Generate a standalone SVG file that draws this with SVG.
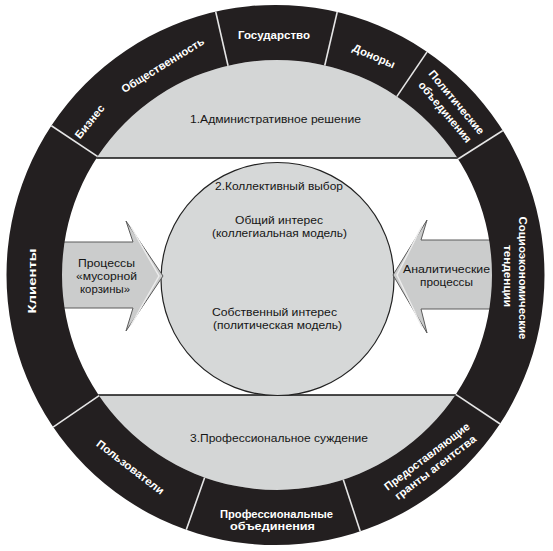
<svg xmlns="http://www.w3.org/2000/svg" width="553" height="551" viewBox="0 0 553 551">
<defs>
<style>
.ring{fill:#231f20;fill-rule:evenodd}
.band{fill:#d4d6d6}
.bline{stroke:#111;stroke-width:1.5}
.sep{stroke:#e6e6e6;stroke-width:1.6}
.rl{font-family:"Liberation Sans",Arial,sans-serif;font-weight:bold;font-size:11px;fill:#fff;text-anchor:middle}
.gl{font-family:"Liberation Sans",Arial,sans-serif;font-size:11.5px;fill:#151515;text-anchor:middle}
.al{font-family:"Liberation Sans",Arial,sans-serif;font-size:11px;fill:#151515;text-anchor:middle}
.arrow{fill:#cbcccc;stroke:#5a5a5a;stroke-width:1}
.bevel{fill:none;stroke:#ececec;stroke-width:1.5}
</style>
<clipPath id="hole"><circle cx="277" cy="275" r="215"/></clipPath>
<clipPath id="ringclip"><path clip-rule="evenodd" d="M6.5,275 A269,270 0 1 1 544.5,275 A269,270 0 1 1 6.5,275 Z M62,275 A215,215 0 1 0 492,275 A215,215 0 1 0 62,275 Z"/></clipPath>
</defs>
<rect width="553" height="551" fill="#fff"/>
<g id="bands">
<g clip-path="url(#hole)">
<rect class="band" x="0" y="0" width="553" height="158"/>
<rect class="band" x="0" y="395" width="553" height="160"/>
<line class="bline" x1="40" y1="158" x2="520" y2="158"/>
<line class="bline" x1="40" y1="395" x2="520" y2="395"/>
</g>
<text class="gl" x="275.5" y="123" textLength="171" lengthAdjust="spacingAndGlyphs">1.Административное решение</text>
<text class="gl" x="279" y="442" textLength="178" lengthAdjust="spacingAndGlyphs">3.Профессиональное суждение</text>
</g>
<g id="center">
<circle cx="277.5" cy="279" r="116.5" fill="#d6d8d8" stroke="#222" stroke-width="1.2"/>
<text class="gl" x="279" y="190" textLength="128" lengthAdjust="spacingAndGlyphs">2.Коллективный выбор</text>
<text class="gl" x="279" y="224" textLength="88" lengthAdjust="spacingAndGlyphs">Общий интерес</text>
<text class="gl" x="279.5" y="237" textLength="135" lengthAdjust="spacingAndGlyphs">(коллегиальная модель)</text>
<text class="gl" x="274.5" y="316" textLength="125" lengthAdjust="spacingAndGlyphs">Собственный интерес</text>
<text class="gl" x="277.5" y="329" textLength="129" lengthAdjust="spacingAndGlyphs">(политическая модель)</text>
</g>
<g id="arrow-left">
<polygon class="arrow" points="52,242 133,242 126,221 163,276 126,331 133,308 52,308"/>
<polyline class="bevel" points="131,227 159,276 131,325"/>
<text class="al" x="106.5" y="266.5" textLength="57" lengthAdjust="spacingAndGlyphs">Процессы</text>
<text class="al" x="106.5" y="279.5" textLength="61" lengthAdjust="spacingAndGlyphs">«мусорной</text>
<text class="al" x="105" y="292.5" textLength="50" lengthAdjust="spacingAndGlyphs">корзины»</text>
</g>
<g id="arrow-right">
<polygon class="arrow" points="502,240 421,240 427,220 393,275 427,333 421,309 502,309"/>
<polyline class="bevel" points="422,226 397,275 422,327"/>
<text class="al" x="446.5" y="272.5" textLength="87" lengthAdjust="spacingAndGlyphs">Аналитические</text>
<text class="al" x="446.5" y="285.5" textLength="53" lengthAdjust="spacingAndGlyphs">процессы</text>
</g>
<g id="ring">
<path class="ring" d="M6.5,275 A269,270 0 1 1 544.5,275 A269,270 0 1 1 6.5,275 Z M62,275 A215,215 0 1 0 492,275 A215,215 0 1 0 62,275 Z"/>
</g>
<g id="connectors" clip-path="url(#ringclip)">
<line class="sep" x1="109.4" y1="164.3" x2="42.8" y2="120"/>
<line class="sep" x1="231.3" y1="80" x2="213.5" y2="2.1"/>
<line class="sep" x1="321.3" y1="80.2" x2="339.5" y2="2.3"/>
<line class="sep" x1="388.1" y1="109.4" x2="433" y2="43.1"/>
<line class="sep" x1="444.7" y1="167.5" x2="512.2" y2="124.6"/>
<line class="sep" x1="110.8" y1="387.7" x2="44.7" y2="432.8"/>
<line class="sep" x1="209.6" y1="463.6" x2="183" y2="539.1"/>
<line class="sep" x1="338.5" y1="465" x2="363.4" y2="541"/>
<line class="sep" x1="442.6" y1="385.7" x2="509.2" y2="430"/>
</g>
<g id="gosudarstvo"><text class="rl" x="274" y="38.5" textLength="72" lengthAdjust="spacingAndGlyphs">Государство</text></g>
<g id="donory" transform="translate(374,56) rotate(23.7)"><text class="rl" x="0" y="4" textLength="45" lengthAdjust="spacingAndGlyphs">Доноры</text></g>
<g id="polit" transform="translate(451,107) rotate(50)">
<text class="rl" x="0" y="-3.5" textLength="80" lengthAdjust="spacingAndGlyphs">Политические</text>
<text class="rl" x="0" y="11.5" textLength="76" lengthAdjust="spacingAndGlyphs">объединения</text>
</g>
<g id="obshch" transform="translate(162.5,65) rotate(-31.7)"><text class="rl" x="0" y="4" textLength="95" lengthAdjust="spacingAndGlyphs">Общественность</text></g>
<g id="biznes" transform="translate(89.5,121.5) rotate(-51)"><text class="rl" x="0" y="4" textLength="40" lengthAdjust="spacingAndGlyphs">Бизнес</text></g>
<g id="klienty" transform="translate(32,281) rotate(-90)"><text class="rl" x="0" y="4" textLength="65" lengthAdjust="spacingAndGlyphs">Клиенты</text></g>
<g id="socio" transform="translate(515.5,277) rotate(90)">
<text class="rl" x="1" y="-3.5" textLength="123" lengthAdjust="spacingAndGlyphs">Социоэкономические</text>
<text class="rl" x="-1" y="11.5" textLength="62" lengthAdjust="spacingAndGlyphs">тенденции</text>
</g>
<g id="polzovateli" transform="translate(130.5,467) rotate(37.6)"><text class="rl" x="0" y="4" textLength="82" lengthAdjust="spacingAndGlyphs">Пользователи</text></g>
<g id="prof">
<text class="rl" x="276.5" y="517.5" textLength="113" lengthAdjust="spacingAndGlyphs">Профессиональные</text>
<text class="rl" x="272.5" y="530" textLength="85" lengthAdjust="spacingAndGlyphs">объединения</text>
</g>
<g id="granty" transform="translate(431,461.75) rotate(-37.2)">
<text class="rl" x="0" y="-2.9" textLength="104" lengthAdjust="spacingAndGlyphs">Предоставляющие</text>
<text class="rl" x="0" y="10.9" textLength="99" lengthAdjust="spacingAndGlyphs">гранты агентства</text>
</g>
</svg>
